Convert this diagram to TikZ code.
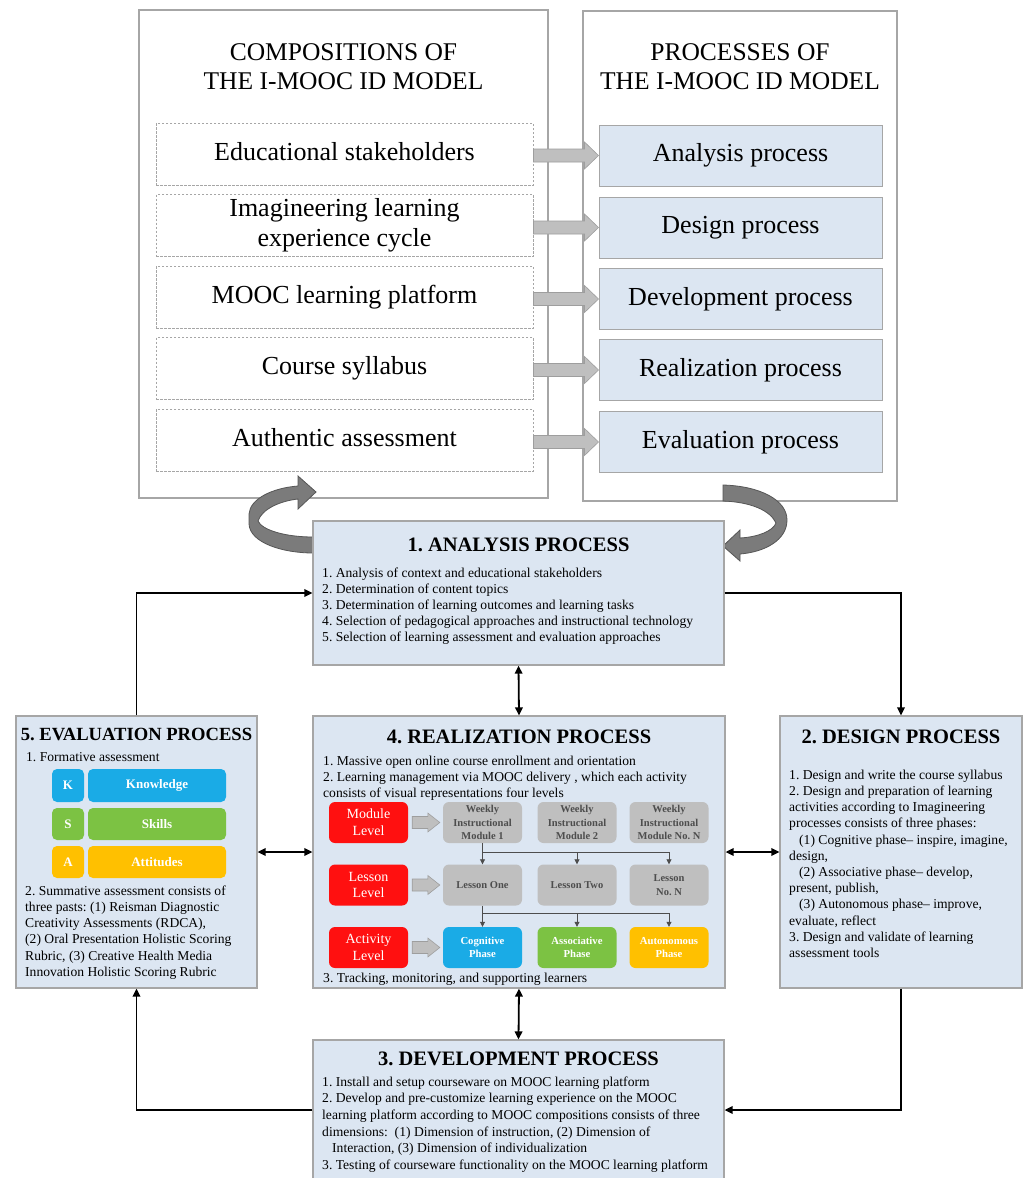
\documentclass[tikz,border=0pt]{standalone}
\usepackage{fontspec}
\setmainfont{Liberation Serif}
\usetikzlibrary{arrows.meta,calc}
\frenchspacing
\definecolor{lblue}{HTML}{DCE6F2}
\definecolor{bord}{HTML}{A6A6A6}
\definecolor{kblue}{HTML}{1AABE6}
\definecolor{sgreen}{HTML}{7CC243}
\definecolor{aorange}{HTML}{FFC000}
\definecolor{rred}{HTML}{FF1010}
\definecolor{gbox}{HTML}{BFBFBF}
\definecolor{gtext}{HTML}{4D4D4D}
\definecolor{ribbon}{HTML}{7B7B7B}
\definecolor{ribedge}{HTML}{565656}
\definecolor{arrfill}{HTML}{BFBFBF}
\definecolor{arredge}{HTML}{9E9E9E}
\newcommand\blockarr[7]{\filldraw[fill=arrfill,draw=arredge,line width=0.6pt]
 ($(#1.east |- #2.west)+(#6,-#3)$) -- ($(#2.west)+(-#5-#7,-#3)$) -- ($(#2.west)+(-#5-#7,-#4)$) -- ($(#2.west)+(-#7,0)$) -- ($(#2.west)+(-#5-#7,#4)$) -- ($(#2.west)+(-#5-#7,#3)$) -- ($(#1.east |- #2.west)+(#6,#3)$) -- cycle;}
\begin{document}
\frenchspacing
\begin{tikzpicture}[x=1pt,y=-1pt,
  outerbox/.style={draw=bord,line width=1.2pt,inner sep=0},
  toptitle/.style={anchor=north,inner sep=0,align=center,font=\fontsize{25.5}{29}\selectfont},
  dashbox/.style={draw=bord,dash pattern=on 2.5pt off 1.5pt,line width=0.9pt,minimum width=377,minimum height=62,inner sep=0,align=center,font=\fontsize{26}{30}\selectfont},
  bluebox/.style={draw=bord,fill=lblue,line width=1pt,minimum width=283,minimum height=61,inner sep=0,align=center,font=\fontsize{26}{30}\selectfont},
  procbox/.style={draw=bord,fill=lblue,line width=1.2pt,inner sep=0},
  ptitle/.style={anchor=base,inner sep=0,font=\bfseries\fontsize{20.5}{24}\selectfont},
  body/.style={anchor=north west,inner sep=0,align=left,font=\fontsize{13.6}{16}\selectfont},
  bodyline/.style={anchor=base west,inner sep=0,font=\fontsize{13.6}{16}\selectfont},
  pill/.style={rounded corners=5pt,inner sep=0,text=white,font=\bfseries\fontsize{13}{15}\selectfont},
  redbox/.style={fill=rred,rounded corners=6pt,minimum width=79,minimum height=41,inner sep=0,align=center,text=white,font=\fontsize{14}{16.7}\selectfont},
  graybox/.style={fill=gbox,rounded corners=6pt,minimum width=79,minimum height=41,inner sep=0,align=center,text=gtext,font=\bfseries\fontsize{10.5}{13.3}\selectfont},
  phasebox/.style={rounded corners=6pt,minimum width=79,minimum height=41,inner sep=0,align=center,text=white,font=\bfseries\fontsize{10.7}{13}\selectfont},
  conn/.style={line width=1.8pt,-{Triangle[length=8pt,width=7.5pt]}},
  dconn/.style={line width=1.8pt,{Triangle[length=8pt,width=7.5pt]}-{Triangle[length=8pt,width=7.5pt]}},
  small/.style={draw=gtext,line width=0.8pt,-{Triangle[length=5pt,width=5pt]}},
  rib/.style={fill=ribbon,draw=ribedge,line width=0.8pt}
]
\useasboundingbox (0,0) rectangle (1024,1178);
\clip (0,0) rectangle (1024,1178);
\fill[white] (0,0) rectangle (1024,1178);

% ---------- top section ----------
\node[outerbox,minimum width=409,minimum height=488] (compL) at (343.5,254) {};
\node[outerbox,minimum width=314,minimum height=490] (procR) at (740,256) {};
\node[toptitle] (tL) at (343.5,39.7) {\strut COMPOSITIONS OF\\THE I-MOOC ID MODEL};
\node[toptitle] (tR) at (740,39.7) {\strut PROCESSES OF\\THE I-MOOC ID MODEL};

\node[dashbox] (d1) at (344.5,154) {\strut Educational stakeholders};
\node[dashbox] (d2) at (344.5,225.5) {\strut Imagineering learning\\\strut experience cycle};
\node[dashbox] (d3) at (344.5,297) {\strut MOOC learning platform};
\node[dashbox] (d4) at (344.5,368.5) {\strut Course syllabus};
\node[dashbox] (d5) at (344.5,440) {\strut Authentic assessment};

\node[bluebox] (p1) at (740.5,155.5) {\strut Analysis process};
\node[bluebox] (p2) at (740.5,227.5) {\strut Design process};
\node[bluebox] (p3) at (740.5,299) {\strut Development process};
\node[bluebox] (p4) at (740.5,370) {\strut Realization process};
\node[bluebox] (p5) at (740.5,442) {\strut Evaluation process};

\foreach \i in {1,...,5} {\blockarr{d\i}{p\i}{6.5}{13.5}{14}{0}{0}}

% ---------- curved ribbon arrows ----------
\filldraw[rib] (313,537) .. controls (285,537) and (262,530) .. (258,521)
  .. controls (262,509) and (280,501) .. (298,499) -- (298,509) -- (316,492) -- (298,476) -- (298,486)
  .. controls (272,488) and (250,499) .. (249,514) -- (249,524)
  .. controls (250,543) and (283,553) .. (313,553) -- cycle;
\filldraw[rib] (723,485) .. controls (760,486) and (787,500) .. (787,520)
  .. controls (787,540) and (765,552) .. (740,554) -- (740,561) -- (723,546) -- (740,530) -- (740,538)
  .. controls (758,537) and (773,531) .. (776,523)
  .. controls (770,510) and (750,502) .. (723,501) -- cycle;

% ---------- process boxes ----------
\node[procbox,minimum width=411,minimum height=144] (ana) at (518.5,593) {};
\node[procbox,minimum width=412,minimum height=272] (real) at (519,852) {};
\node[procbox,minimum width=241,minimum height=272] (eval) at (136.5,852) {};
\node[procbox,minimum width=242,minimum height=272] (des) at (901,852) {};
\node[procbox,minimum width=411,minimum height=140] (dev) at (518.5,1110) {};

% analysis
\node[ptitle] (anaT) at (518.5,551) {1. ANALYSIS PROCESS};
\node[body] (anaB) at (322,565.8) {\strut 1. Analysis of context and educational stakeholders\\
2. Determination of content topics\\
3. Determination of learning outcomes and learning tasks\\
4. Selection of pedagogical approaches and instructional technology\\
5. Selection of learning assessment and evaluation approaches};

% evaluation
\node[ptitle,font=\bfseries\fontsize{18.6}{22}\selectfont] (evalT) at (136.5,740) {5. EVALUATION PROCESS};
\node[bodyline] (evalF) at (26,761) {1. Formative assessment};
\node[pill,fill=kblue,minimum width=32,minimum height=33] (K) at (68,785.5) {K};
\node[pill,fill=kblue,minimum width=138,minimum height=33] (Kn) at (157,785.5) {Knowledge};
\node[pill,fill=sgreen,minimum width=32,minimum height=32] (S) at (68,824) {S};
\node[pill,fill=sgreen,minimum width=138,minimum height=32] (Sk) at (157,824) {Skills};
\node[pill,fill=aorange,minimum width=32,minimum height=32] (A) at (68,862) {A};
\node[pill,fill=aorange,minimum width=138,minimum height=32] (At) at (157,862) {Attitudes};
\node[body,font=\fontsize{13.6}{16.2}\selectfont] (evalB) at (25,883.7) {\strut 2. Summative assessment consists of\\
three pasts: (1) Reisman Diagnostic\\
Creativity Assessments (RDCA),\\
(2) Oral Presentation Holistic Scoring\\
Rubric, (3) Creative Health Media\\
Innovation Holistic Scoring Rubric};

% realization
\node[ptitle] (realT) at (519,743) {4. REALIZATION PROCESS};
\node[body] (realB) at (323,753.8) {\strut 1. Massive open online course enrollment and orientation\\
2. Learning management via MOOC delivery , which each activity\\
consists of visual representations four levels};
\node[redbox] (rm) at (368.5,822.5) {Module\\Level};
\node[redbox] (rl) at (368.5,885) {Lesson\\Level};
\node[redbox] (ra) at (368.5,947.5) {Activity\\Level};
\node[graybox] (m1) at (482.5,822.5) {Weekly\\Instructional\\Module 1};
\node[graybox] (m2) at (577,822.5) {Weekly\\Instructional\\Module 2};
\node[graybox] (m3) at (669,822.5) {Weekly\\Instructional\\Module No. N};
\node[graybox] (l1) at (482.5,885) {Lesson One};
\node[graybox] (l2) at (577,885) {Lesson Two};
\node[graybox] (l3) at (669,885) {Lesson\\No. N};
\node[phasebox,fill=kblue] (a1) at (482.5,947.5) {Cognitive\\Phase};
\node[phasebox,fill=sgreen] (a2) at (577,947.5) {Associative\\Phase};
\node[phasebox,fill=aorange] (a3) at (669,947.5) {Autonomous\\Phase};
\blockarr{rm}{m1}{6}{9.5}{12}{4}{3}
\blockarr{rl}{l1}{6}{9.5}{12}{4}{3}
\blockarr{ra}{a1}{6}{9.5}{12}{4}{3}
\coordinate (br1) at (482.5,852);
\coordinate (br2) at (482.5,913);
\draw[small] (m1.south) -- (l1.north);
\draw[small] (br1) -| (l2.north);
\draw[small] (br1) -| (l3.north);
\draw[small] (l1.south) -- (a1.north);
\draw[small] (br2) -| (a2.north);
\draw[small] (br2) -| (a3.north);
\node[bodyline] (realC) at (323,982) {3. Tracking, monitoring, and supporting learners};

% design
\node[ptitle] (desT) at (901,743) {2. DESIGN PROCESS};
\node[body,font=\fontsize{13.6}{16.2}\selectfont] (desB) at (789,767.7) {\strut 1. Design and write the course syllabus\\
2. Design and preparation of learning\\
activities according to Imagineering\\
processes consists of three phases:\\
\hspace*{10pt}(1) Cognitive phase– inspire, imagine,\\
design,\\
\hspace*{10pt}(2) Associative phase– develop,\\
present, publish,\\
\hspace*{10pt}(3) Autonomous phase– improve,\\
evaluate, reflect\\
3. Design and validate of learning\\
assessment tools};

% development
\node[ptitle] (devT) at (518.5,1065) {3. DEVELOPMENT PROCESS};
\node[body,font=\fontsize{13.6}{16.6}\selectfont] (devB) at (322,1074.4) {\strut 1. Install and setup courseware on MOOC learning platform\\
2. Develop and pre-customize learning experience on the MOOC\\
learning platform according to MOOC compositions consists of three\\
dimensions:\ \ (1) Dimension of instruction, (2) Dimension of\\
\hspace*{10pt}Interaction, (3) Dimension of individualization\\
3. Testing of courseware functionality on the MOOC learning platform};

% ---------- connectors ----------
\draw[conn] (eval.north) |- (ana.west);
\draw[conn] (ana.east) -| (des.north);
\draw[dconn] (ana.south) -- (real.north);
\draw[dconn] (eval.east) -- (real.west);
\draw[dconn] (real.east) -- (des.west);
\draw[dconn] (real.south) -- (dev.north);
\draw[conn] (des.south) |- (dev.east);
\draw[conn] (dev.west) -| (eval.south);
\end{tikzpicture}
\end{document}
